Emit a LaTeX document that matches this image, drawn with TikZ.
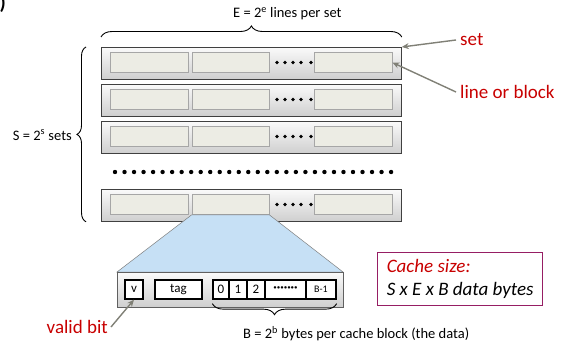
\documentclass[tikz,border=0pt]{standalone}
\usepackage{fontspec}
\setmainfont{Carlito}
\usetikzlibrary{decorations.pathreplacing,arrows.meta}
\definecolor{lblred}{RGB}{200,0,0}
\definecolor{arrgray}{RGB}{128,128,118}
\definecolor{blkfill}{RGB}{236,236,228}
\definecolor{trapblue}{RGB}{198,224,245}
\definecolor{boxpurple}{RGB}{150,30,100}
\begin{document}
\begin{tikzpicture}[x=1pt,y=-1pt,
  setrow/.style={draw=black!75, line width=0.8pt, top color=gray!4, bottom color=gray!38,
    minimum width=300pt, minimum height=32pt, inner sep=0pt, anchor=north west},
  blk/.style={draw=gray!70, line width=0.7pt, fill=blkfill, minimum width=78pt,
    minimum height=20pt, inner sep=0pt},
  bigblk/.style={draw=gray!75!black, line width=0.7pt, top color=gray!4, bottom color=gray!38,
    minimum width=226pt, minimum height=35pt, inner sep=0pt, anchor=north west},
  databox/.style={draw=black, line width=1.3pt, fill=white, minimum height=19pt,
    inner sep=0pt, font=\fontsize{13}{15}\selectfont},
  lbl/.style={font=\fontsize{14.5}{17}\selectfont, inner sep=0pt},
  redlbl/.style={font=\fontsize{19}{22}\selectfont, text=lblred, inner sep=0pt},
  ptr/.style={draw=arrgray, line width=1.4pt, -{Stealth[length=7pt,width=6pt]}},
  bracedeco/.style={decorate, decoration={brace, amplitude=11pt}, line width=0.9pt}
]
\useasboundingbox (0,0) rectangle (562,342);

% clipped fragment in corner
\node[font=\bfseries\fontsize{20}{22}\selectfont, anchor=east, inner sep=0pt] (frag) at (6,4) {)};

% set rows
\foreach \n/\y in {1/47,2/84,3/121,4/189}{
  \node[setrow] (r\n) at (101,\y) {};
  \node[blk] (r\n-b1) at (149,\y+15.5) {};
  \node[blk, minimum width=77pt] (r\n-b2) at (230.5,\y+15.5) {};
  \foreach \dx in {277,285,293,301,311}
    \fill (\dx,\y+15.5) circle (1.9pt);
  \node[blk] (r\n-b3) at (353,\y+15.5) {};
}

% big dotted row
\foreach \i in {0,...,29}
  \fill ({115+\i*9.52},172) circle (2.2pt);

% braces
\draw[bracedeco] ([yshift=10pt]r1.north west) -- ([yshift=10pt]r1.north east);
\draw[bracedeco, decoration={amplitude=9pt}] ([xshift=-15pt]r4.south west) -- ([xshift=-15pt]r1.north west);

\node[lbl, anchor=west] (elbl) at (233,14) {E = 2\textsuperscript{e} lines per set};
\node[lbl, anchor=east] (slbl) at (72,135) {S = 2\textsuperscript{s} sets};

% labels set / line or block
\node[redlbl, anchor=west] (setlbl) at (460,40) {set};
\node[redlbl, anchor=west] (linelbl) at (460,92) {line or block};
\draw[ptr] ([xshift=-4pt]setlbl.west) -- (r1.north east);
\draw[ptr] ([xshift=-4pt]linelbl.west) -- (r1-b3.east);

% expanded line
\filldraw[fill=trapblue, draw=black!50, line width=0.5pt]
  (r4-b2.south west) -- (r4-b2.south east) -- (343,272) -- (117,272) -- cycle;
\node[bigblk] (line) at (117,272) {};

\node[databox, minimum width=18pt] (vbox) at (134,289.5) {v};
\node[databox, minimum width=47pt] (tagbox) at (178.5,289.5) {tag};
\node[databox, minimum width=16pt] (d0) at (221,289.5) {0};
\node[databox, minimum width=18pt] (d1) at (238,289.5) {1};
\node[databox, minimum width=18pt] (d2) at (256,289.5) {2};
\node[databox, minimum width=41pt] (ddots) at (285.5,289.5) {\textbf{·······}};
\node[databox, minimum width=30pt, font=\fontsize{10}{12}\selectfont] (dB) at (321,289.5) {B-1};

\draw[bracedeco] ([yshift=-4pt]dB.south east) -- ([yshift=-4pt]d0.south west);
\node[lbl, anchor=west] (blbl) at (243,334) {B = 2\textsuperscript{b} bytes per cache block (the data)};

\node[redlbl, anchor=east] (vlbl) at (108,327) {valid bit};
\draw[ptr] ([xshift=3pt]vlbl.east) -- (vbox.south);

% cache size box
\node[draw=boxpurple, line width=1.3pt, minimum width=165pt, minimum height=53pt,
  align=left, anchor=north west, inner sep=4pt,
  font=\itshape\fontsize{19}{23}\selectfont] (csize) at (377,252)
  {\textcolor{lblred}{Cache size:}\\S x E x B data bytes};
\end{tikzpicture}
\end{document}
